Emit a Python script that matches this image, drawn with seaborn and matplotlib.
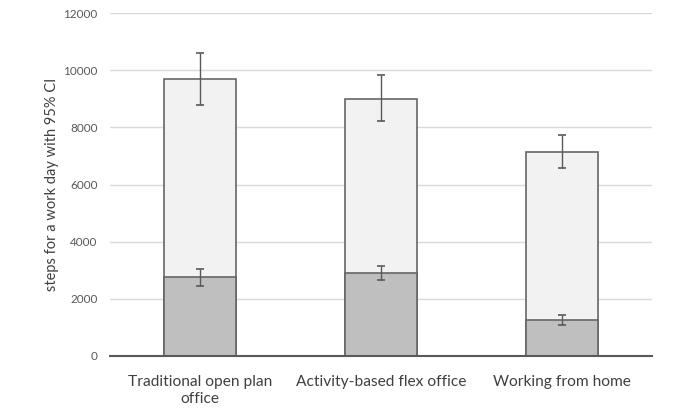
import matplotlib
matplotlib.use("Agg")
import matplotlib.pyplot as plt
import seaborn as sns
import pandas as pd
import numpy as np

categories = ["Traditional open plan\noffice", "Activity-based flex office", "Working from home"]
total_steps = [9700, 9000, 7150]
total_lo = [8770, 8220, 6560]
total_hi = [10600, 9820, 7720]
work_steps = [2750, 2900, 1260]
work_lo = [2450, 2660, 1070]
work_hi = [3060, 3150, 1440]
yticks = [0, 2000, 4000, 6000, 8000, 10000, 12000]

sns.set_theme(style="white")
plt.rcParams['font.family'] = ['Lato', 'DejaVu Sans']

df = pd.DataFrame({"cat": categories, "total": total_steps, "work": work_steps})

fig = plt.figure(figsize=(6.8, 4.18), dpi=100)
ax = fig.add_axes([110/680, 1-356/418, (652-110)/680, (356-13)/418])

edge = "#666666"
sns.barplot(data=df, x="cat", y="total", color="#f2f2f2", width=0.4,
            edgecolor=edge, linewidth=1.2, saturation=1, ax=ax, zorder=2)
sns.barplot(data=df, x="cat", y="work", color="#bfbfbf", width=0.4,
            edgecolor=edge, linewidth=1.2, saturation=1, ax=ax, zorder=3)

x = np.arange(len(categories))
err_col = "#595959"
ax.errorbar(x, total_steps,
            yerr=[np.array(total_steps) - np.array(total_lo), np.array(total_hi) - np.array(total_steps)],
            fmt="none", ecolor=err_col, elinewidth=1, capsize=2.8, capthick=1.2, zorder=5)
ax.errorbar(x, work_steps,
            yerr=[np.array(work_steps) - np.array(work_lo), np.array(work_hi) - np.array(work_steps)],
            fmt="none", ecolor=err_col, elinewidth=1, capsize=2.8, capthick=1.2, zorder=5)

ax.set_ylim(0, 12000)
ax.set_xlim(-0.5, 2.5)
ax.set_yticks(yticks)
ax.set_yticklabels([str(t) for t in yticks])
ax.yaxis.grid(True, color="#d9d9d9", linewidth=1)
ax.set_axisbelow(True)
for s in ["top", "right", "left"]:
    ax.spines[s].set_visible(False)
ax.spines["bottom"].set_color("#595959")
ax.spines["bottom"].set_linewidth(1.5)
ax.spines["bottom"].set_zorder(6)

ax.tick_params(axis="y", length=0, pad=9, labelsize=8.5, labelcolor="#595959")
ax.tick_params(axis="x", length=0, pad=14, labelsize=11.2, labelcolor="#404040")
ax.set_xlabel("")
ax.set_ylabel("steps for a work day with 95% CI", fontsize=10.5, color="#404040", labelpad=3)

fig.savefig("out.png", dpi=100)
